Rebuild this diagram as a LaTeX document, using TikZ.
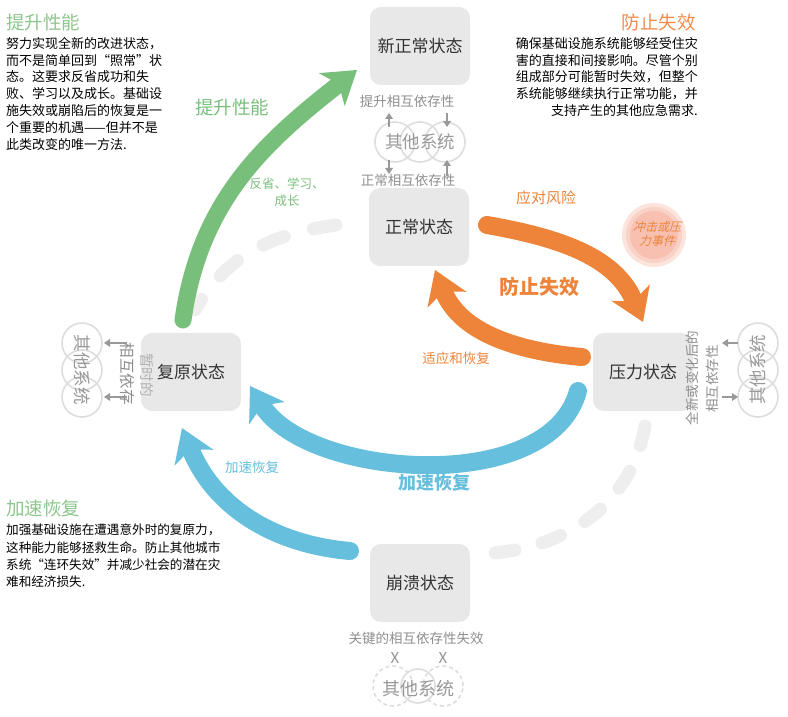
\documentclass[tikz,border=0pt]{standalone}
\usepackage{fontspec}
\setmainfont{Noto Sans CJK SC}
\newfontfamily\slantfont[FakeSlant=0.25]{Noto Sans CJK SC}
\usetikzlibrary{arrows.meta}
\definecolor{boxgray}{HTML}{E8E8E8}
\definecolor{ringgray}{HTML}{DDDDDD}
\definecolor{txtgray}{HTML}{8E8E8E}
\definecolor{dashgray}{HTML}{EEEEEE}
\definecolor{leafgreen}{HTML}{79BF7C}
\definecolor{headgreen}{HTML}{8DC68C}
\definecolor{headorange}{HTML}{F08C4E}
\definecolor{riskorange}{HTML}{EE843A}
\definecolor{skyblue}{HTML}{66BFDC}
\definecolor{shockpink}{HTML}{F4A58F}
\begin{document}
\begin{tikzpicture}[x=1pt,y=1pt,
	statebox/.style={fill=boxgray,rounded corners=11pt,minimum width=100pt,minimum height=78pt,text=black!80,font=\fontsize{17}{20}\selectfont},
	sysring/.style={draw=ringgray,line width=1.6pt},
	ringtxt/.style={text=black!40,font=\fontsize{17.5}{20}\selectfont},
	graytxt/.style={text=txtgray,font=\fontsize{13.5}{16}\selectfont},
	tinyarrow/.style={draw=black!40,line width=2.4pt,-{Triangle[length=6pt,width=8pt,line width=0pt]}},
	bigarrow/.style={line width=18pt,line cap=round,-{Stealth[length=32pt,width=42pt,inset=9pt,line width=0pt]}},
	ghost/.style={draw=dashgray,line width=13pt,line cap=round,dash pattern=on 23pt off 30pt},
	heading/.style={font=\fontsize{18.5}{22}\selectfont,inner sep=0pt},
	bodytxt/.style={align=left,inner sep=0pt,font=\fontsize{13}{16.8}\selectfont}]
	\useasboundingbox (0,0) rectangle (788,716);
	\path (336,491) coordinate (d0) (195,406) coordinate (d1)
		(645,290) coordinate (d2) (493,163) coordinate (d3);
	\draw[ghost] (d0) to[out=188,in=60] (d1);
	\draw[ghost,dash pattern=on 20pt off 28pt] (d2) to[out=-100,in=5] (d3);
	\node[statebox] (newnormal) at (420,670) {新正常状态};
	\node[statebox] (normal) at (419,489) {正常状态};
	\node[statebox] (stress) at (643,344) {压力状态};
	\node[statebox] (restore) at (191,344) {复原状态};
	\node[statebox] (collapse) at (420,133) {崩溃状态};
	\foreach \x in {395,420,445} \draw[sysring] (\x,574) circle (20);
	\foreach \y in {373,346,319} \draw[sysring] (82,\y) circle (20) (758,\y) circle (20);
	\draw[sysring,dash pattern=on 4pt off 3pt] (393,30) circle (20) (443,30) circle (20);
	\draw[sysring] (418,30) circle (17);
	\node[ringtxt] (topsys) at (420,574) {其他系统};
	\node[ringtxt,rotate=-90] (leftsys) at (82,346) {其他系统};
	\node[ringtxt,rotate=90] (rightsys) at (758,346) {其他系统};
	\node[ringtxt,font=\fontsize{18}{20}\selectfont] (lostsys) at (418,27) {其他系统};
	\node[graytxt] (riselabel) at (407,615) {提升相互依存性};
	\node[graytxt] (normlabel) at (408,536) {正常相互依存性};
	\node[graytxt,rotate=-90,font=\fontsize{15.5}{18}\selectfont] (leftdep) at (127,342) {相互依存};
	\node[graytxt,rotate=-90,text=black!30,font=\fontsize{14.5}{16}\selectfont] (lefttemp) at (147,341) {暂时的};
	\node[graytxt,rotate=90] (rightnew) at (692,338) {全新或变化后的};
	\node[graytxt,rotate=90] (rightdep) at (712,337) {相互依存性};
	\node[graytxt] (lostlabel) at (416,78) {关键的相互依存性失效};
	\foreach \x/\n in {395/cutl,443/cutr} \node[graytxt,font=\fontsize{15}{18}\selectfont] (\n) at (\x,58) {X};
	\path (389,589) coordinate (tl0) (389,603) coordinate (tl1)
		(447,603) coordinate (tr0) (447,589) coordinate (tr1)
		(389,556) coordinate (bl0) (389,542) coordinate (bl1)
		(447,540) coordinate (br0) (447,556) coordinate (br1)
		(127,373) coordinate (la0) (104,373) coordinate (la1)
		(127,319) coordinate (lb0) (104,319) coordinate (lb1)
		(738,373) coordinate (ra0) (722,373) coordinate (ra1)
		(722,319) coordinate (rb0) (738,319) coordinate (rb1);
	\foreach \s/\t in {tl0/tl1,tr0/tr1,bl0/bl1,br0/br1,la0/la1,lb0/lb1,ra0/ra1,rb0/rb1} \draw[tinyarrow] (\s)--(\t);
	\fill[shockpink!30] (654,481) circle (32);
	\fill[shockpink!50] (654,481) circle (28);
	\fill[shockpink!70] (654,481) circle (24);
	\node[text=riskorange,align=center,font=\slantfont\fontsize{12}{14}\selectfont] (shock) at (657,482) {冲击或压\\力事件};
	\path (183,396) coordinate (g0) (357,646) coordinate (g1)
		(487,491) coordinate (o0) (643,394) coordinate (o1)
		(582,359) coordinate (o2) (435,446) coordinate (o3)
		(578,325) coordinate (b0) (250,330) coordinate (b1)
		(350,165) coordinate (b2) (182,288) coordinate (b3);
	\draw[bigarrow,leafgreen,line width=17pt] (g0) to[out=82,in=-142] (g1);
	\draw[bigarrow,riskorange] (o0) to[out=-10,in=113] (o1);
	\draw[bigarrow,riskorange] (o2) to[out=175,in=-68] (o3);
	\draw[bigarrow,skyblue] (b0) to[out=-105,in=-58,looseness=.85] (b1);
	\draw[bigarrow,skyblue] (b2) to[out=175,in=-68] (b3);
	\node[text=leafgreen,font=\fontsize{18.5}{22}\selectfont] (perflabel) at (232,609) {提升性能};
	\node[text=leafgreen,align=center,font=\fontsize{12.5}{17}\selectfont] (learnlabel) at (287,524) {反省、学习、\\成长};
	\node[text=riskorange,font=\fontsize{15}{18}\selectfont] (risklabel) at (546,518) {应对风险};
	\node[text=riskorange,font=\bfseries\fontsize{20}{24}\selectfont] (faillabel) at (539,429) {防止失效};
	\node[text=riskorange,font=\fontsize{13.5}{16}\selectfont] (adaptlabel) at (456,358) {适应和恢复};
	\node[text=skyblue,font=\bfseries\fontsize{18}{22}\selectfont] (fastlabel) at (434,233) {加速恢复};
	\node[text=skyblue,font=\fontsize{13.5}{16}\selectfont] (fastsmall) at (252,249) {加速恢复};
	\node[heading,text=headgreen,anchor=west] (perfhead) at (6,694) {提升性能};
	\node[bodytxt,anchor=north west] (perfbody) at (6,679) {努力实现全新的改进状态，\\而不是简单回到“照常”状\\态。这要求反省成功和失\\败、学习以及成长。基础设\\施失效或崩陷后的恢复是一\\个重要的机遇——但并不是\\此类改变的唯一方法.};
	\node[heading,text=headorange,anchor=east] (failhead) at (696,694) {防止失效};
	\node[bodytxt,align=right,anchor=north east] (failbody) at (698,679) {确保基础设施系统能够经受住灾\\害的直接和间接影响。尽管个别\\组成部分可能暂时失效，但整个\\系统能够继续执行正常功能，并\\支持产生的其他应急需求.};
	\node[heading,text=headgreen,anchor=west] (fasthead) at (6,208) {加速恢复};
	\node[bodytxt,font=\fontsize{12.6}{17.3}\selectfont,anchor=north west] (fastbody) at (6,192) {加强基础设施在遭遇意外时的复原力，\\这种能力能够拯救生命。防止其他城市\\系统“连环失效”并减少社会的潜在灾\\难和经济损失.};
\end{tikzpicture}
\end{document}
